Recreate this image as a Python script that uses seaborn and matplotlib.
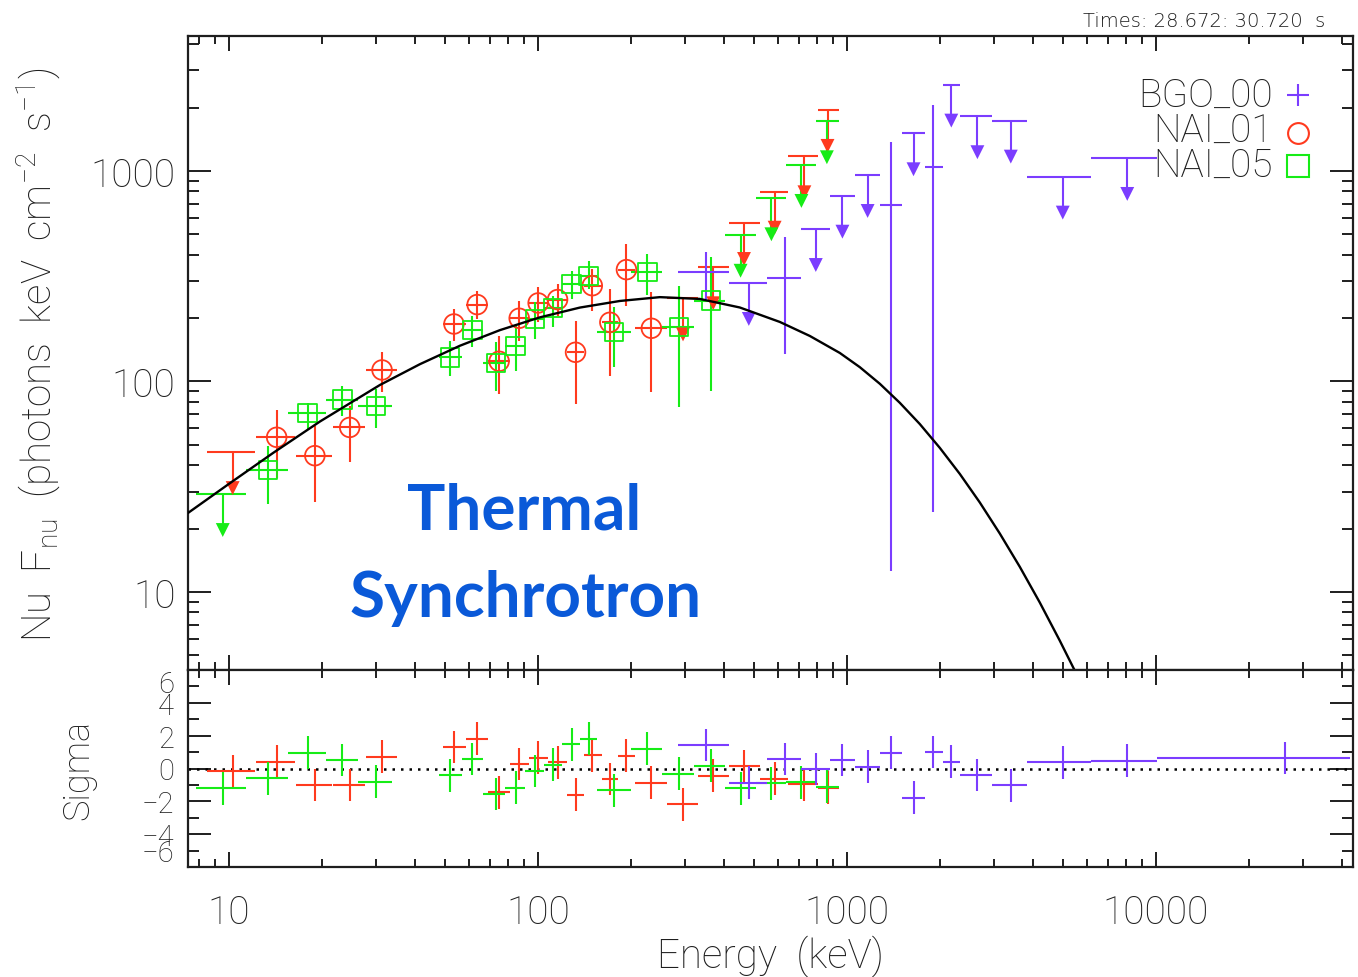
import numpy as np
import pandas as pd
import matplotlib
matplotlib.use("Agg")
import matplotlib.pyplot as plt
import seaborn as sns
from matplotlib.ticker import FixedLocator, FuncFormatter, NullFormatter, LogLocator

nan = np.nan

# ---------------- model curve ----------------
model_energy = [7.37, 10.075, 13.88, 19.70, 30.82, 41.51, 55.93, 75.34, 101.5, 136.8,
                184.3, 248.2, 334.4, 450.4, 607.2, 759.0, 949.1, 1102, 1279, 1484,
                1723, 2000, 2322, 2694, 3127, 3630, 4213, 4890, 5470, 5675]
model_flux = [23.73, 32.88, 45.70, 64.51, 96.25, 120.8, 147.8, 175.3, 201.6, 224.4,
              241.2, 251.5, 246.6, 224.6, 191.7, 164.5, 136.6, 116.9, 97.5, 79.21,
              62.77, 48.37, 36.36, 26.63, 18.96, 13.17, 8.915, 5.875, 4.228, 3.78]

# ---------------- NAI_01 (red circles) ----------------
nai01_energy = [10.28, 14.27, 18.97, 24.6, 31.3, 53.5, 63.6, 74.9, 87.0, 100.2, 115.8,
                132.4, 150.0, 171.0, 193.5, 233.0, 295.0, 369.5, 464.7, 584.0, 729.0, 866.0]
nai01_elo = [8.47, 12.23, 16.47, 21.65, 27.76, 49.38, 58.48, 69.06, 81.18, 93.72, 108.0,
             123.8, 140.9, 160.7, 181.9, 206.0, 261.0, 329.5, 414.4, 523.0, 646.4, 806.7]
nai01_ehi = [12.14, 16.35, 21.54, 27.55, 34.98, 58.48, 69.06, 81.18, 93.72, 108.0, 123.8,
             140.9, 160.7, 181.9, 206.0, 261.0, 329.5, 414.4, 523.0, 646.4, 806.7, 942.2]
nai01_flux = [46.2, 54.3, 44.4, 60.5, 113.4, 187.5, 231.8, 124.7, 199.6, 236.0, 244.9,
              137.6, 285.0, 191.0, 339.8, 178.9, 248.0, 348.7, 566.0, 797.0, 1174.0, 1950.0]
nai01_flo = [nan, 34.7, 26.9, 41.6, 89.1, 156.3, 198.2, 87.3, 156.3, 191.8, 205.5,
             78.2, 216.7, 106.7, 229.1, 89.5, nan, nan, nan, nan, nan, nan]
nai01_fhi = [nan, 73.5, 61.7, 76.7, 138.0, 220.7, 269.8, 165.3, 242.2, 281.3, 290.6,
             194.5, 342.0, 274.9, 449.8, 267.2, nan, nan, nan, nan, nan, nan]
nai01_ul = [1, 0, 0, 0, 0, 0, 0, 0, 0, 0, 0, 0, 0, 0, 0, 0, 1, 1, 1, 1, 1, 1]
nai01_sigma = [-0.15, 0.42, -1.01, -1.01, 0.71, 1.31, 1.82, -1.44, 0.27, 0.65, 0.39,
               -1.6, 0.8, -0.64, 0.78, -0.86, -2.19, -0.45, 0.15, -0.63, -0.96, -1.18]

# ---------------- NAI_05 (green squares) ----------------
nai05_energy = [9.55, 13.4, 17.97, 23.3, 29.9, 51.9, 61.4, 73.1, 84.7, 97.8, 112.0,
                128.5, 146.0, 176.4, 226.1, 286.4, 362.6, 453.0, 570.0, 713.0, 862.0]
nai05_elo = [7.82, 11.35, 15.52, 20.6, 26.2, 47.92, 56.64, 66.53, 78.21, 90.77, 104.6,
             119.8, 136.8, 154.9, 199.5, 251.9, 320.5, 404.6, 508.7, 635.4, 793.6]
nai05_ehi = [11.35, 15.52, 20.6, 26.2, 33.7, 56.64, 66.53, 78.21, 90.77, 104.6, 119.8,
             136.8, 154.9, 199.5, 251.9, 320.5, 404.6, 508.7, 635.4, 793.6, 942.2]
nai05_flux = [29.2, 38.0, 70.8, 82.0, 76.7, 130.0, 175.7, 122.5, 147.0, 198.0, 222.9,
              290.6, 318.0, 171.4, 330.5, 180.9, 242.0, 497.6, 741.6, 1068.0, 1722.0]
nai05_flo = [nan, 26.2, 59.4, 68.8, 59.9, 106.7, 145.2, 90.4, 112.5, 159.3, 180.8,
             246.5, 274.9, 116.7, 257.8, 75.4, 90.4, nan, nan, nan, nan]
nai05_fhi = [nan, 49.5, 78.7, 95.5, 92.1, 156.3, 205.5, 154.2, 184.1, 238.8, 255.9,
             335.6, 374.6, 225.0, 403.9, 285.2, 390.7, nan, nan, nan, nan]
nai05_ul = [1, 0, 0, 0, 0, 0, 0, 0, 0, 0, 0, 0, 0, 0, 0, 0, 0, 1, 1, 1, 1]
nai05_sigma = [-1.21, -0.6, 0.96, 0.52, -0.81, -0.42, 0.58, -1.55, -1.16, -0.15, 0.22,
               1.48, 1.82, -1.33, 1.21, -0.31, 0.17, -1.21, -0.9, -0.84, -1.11]

# ---------------- BGO_00 (purple crosses) ----------------
bgo00_energy = [349.8, 481.7, 630.2, 793.6, 967.8, 1167.7, 1393.2, 1644.0, 1905.2, 2178.9,
                2646.7, 3394.8, 5000.3, 8086.6, 26271.0]
bgo00_elo = [283.9, 414.4, 549.8, 709.9, 885.0, 1061.4, 1279.5, 1510.0, 1791.2, 2054.6,
             2316.6, 2961.4, 3830.7, 6178.4, 10074.0]
bgo00_ehi = [414.4, 549.8, 709.9, 885.0, 1061.4, 1279.5, 1510.0, 1791.2, 2054.6, 2316.6,
             2961.4, 3830.7, 6178.4, 10074.0, 42448.0]
bgo00_flux = [332.0, 293.8, 309.0, 530.0, 763.0, 957.0, 689.6, 1510.0, 1041.0, 2571.0,
              1820.0, 1734.0, 940.0, 1153.0, nan]
bgo00_flo = [246.5, nan, 135.2, nan, nan, nan, 12.6, nan, 24.0, nan, nan, nan, nan, nan, nan]
bgo00_fhi = [414.2, nan, 484.4, nan, nan, nan, 1368.0, nan, 2059.0, nan, nan, nan, nan, nan, nan]
bgo00_ul = [0, 1, 0, 1, 1, 1, 0, 1, 0, 1, 1, 1, 1, 1, 1]
bgo00_sigma = [1.43, -0.86, 0.58, -0.03, 0.52, 0.1, 0.95, -1.77, 1.01, 0.41, -0.4,
               -1.03, 0.37, 0.47, 0.64]

legend_labels = ["BGO_00", "NAI_01", "NAI_05"]
time_label = "Times: 28.672: 30.720  s"
annotation_lines = ["Thermal", "Synchrotron"]

# ---------------- style ----------------
sns.set_theme(style="ticks")
plt.rcParams["font.family"] = ["Roboto", "DejaVu Sans"]
plt.rcParams["font.weight"] = "light"
plt.rcParams["mathtext.fontset"] = "custom"
plt.rcParams["mathtext.rm"] = "Roboto:light"
plt.rcParams["mathtext.it"] = "Roboto:light:italic"
plt.rcParams["mathtext.bf"] = "Roboto:bold"

RED = "#ff3a1e"
GREEN = "#16ec16"
PURPLE = "#7b3dff"
BLUE = "#0a59d8"
INK = "#1e1e1e"
LW = 1.5

W, H = 1358, 978
fig = plt.figure(figsize=(W / 100, H / 100), dpi=100)
L, R = 188 / W, 1353 / W
ax = fig.add_axes([L, 1 - 671 / H, R - L, (671 - 37) / H])
axr = fig.add_axes([L, 1 - 868 / H, R - L, (868 - 671) / H])

for a in (ax, axr):
    a.set_xscale("log")
    a.set_xlim(7.37, 43500)
ax.set_yscale("log")
ax.set_ylim(4.26, 4375)
axr.set_ylim(-6, 6)

ARROW = 10 ** (-36 / 210.5)   # arrow head position relative to the upper limit


def make_df(e, elo, ehi, f, flo, fhi, ul, sig):
    return pd.DataFrame(dict(e=e, elo=elo, ehi=ehi, f=f, flo=flo, fhi=fhi, ul=ul, sig=sig))


def draw(df, color, marker=None, msize=None):
    det = df[(df.ul == 0) & df.f.notna()]
    lim = df[(df.ul == 1) & df.f.notna()]
    ax.errorbar(det.e, det.f, xerr=[det.e - det.elo, det.ehi - det.e],
                yerr=[det.f - det.flo, det.fhi - det.f], fmt="none",
                ecolor=color, elinewidth=LW, capsize=0, zorder=2)
    if marker is not None and len(det):
        sns.scatterplot(x=det.e, y=det.f, marker=marker, s=msize, facecolor="none",
                        edgecolor=color, linewidth=1.3, ax=ax, legend=False, zorder=3)
    if len(lim):
        tip = lim.f * ARROW
        ax.hlines(lim.f, lim.elo, lim.ehi, colors=color, lw=LW, zorder=2)
        ax.vlines(lim.e, tip, lim.f, colors=color, lw=LW, zorder=2)
        sns.scatterplot(x=lim.e, y=tip, marker="v", s=100, color=color,
                        edgecolor="none", ax=ax, legend=False, zorder=3)
    axr.errorbar(df.e, df.sig, xerr=[df.e - df.elo, df.ehi - df.e], yerr=1.0,
                 fmt="none", ecolor=color, elinewidth=LW, capsize=0, zorder=2)


d_red = make_df(nai01_energy, nai01_elo, nai01_ehi, nai01_flux, nai01_flo, nai01_fhi,
                nai01_ul, nai01_sigma)
d_grn = make_df(nai05_energy, nai05_elo, nai05_ehi, nai05_flux, nai05_flo, nai05_fhi,
                nai05_ul, nai05_sigma)
d_pur = make_df(bgo00_energy, bgo00_elo, bgo00_ehi, bgo00_flux, bgo00_flo, bgo00_fhi,
                bgo00_ul, bgo00_sigma)

draw(d_red, RED, "o", 200)
draw(d_grn, GREEN, "s", 175)
draw(d_pur, PURPLE)

sns.lineplot(x=model_energy, y=model_flux, ax=ax, color="black", lw=1.7, zorder=4,
             sort=False)

axr.axhline(0, color="black", lw=1.8, ls=(0, (1, 2.4)), zorder=1)

# ---------------- axes / ticks ----------------
fmt = FuncFormatter(lambda v, p: f"{v:g}")
for a in (ax, axr):
    a.xaxis.set_major_locator(FixedLocator([10, 100, 1000, 10000]))
    a.xaxis.set_minor_locator(LogLocator(base=10, subs=np.arange(2, 10), numticks=30))
    a.xaxis.set_major_formatter(fmt)
    a.xaxis.set_minor_formatter(NullFormatter())
    a.tick_params(which="both", direction="in", top=True, right=True, width=1.4,
                  color=INK, labelcolor=INK)
    a.tick_params(axis="x", which="major", length=11)
    a.tick_params(axis="x", which="minor", length=5.5)
    for s in a.spines.values():
        s.set_linewidth(1.6)
        s.set_color(INK)
    a.set_xlabel("")
    a.set_ylabel("")

ax.yaxis.set_major_locator(FixedLocator([10, 100, 1000]))
ax.yaxis.set_minor_locator(LogLocator(base=10, subs=np.arange(2, 10), numticks=30))
ax.yaxis.set_major_formatter(fmt)
ax.yaxis.set_minor_formatter(NullFormatter())
ax.tick_params(axis="y", which="major", length=16.5, labelsize=28, pad=9)
ax.tick_params(axis="y", which="minor", length=8)
ax.tick_params(axis="x", labelbottom=False)

axr.yaxis.set_major_locator(FixedLocator([-6, -4, -2, 0, 2, 4, 6]))
axr.yaxis.set_minor_locator(FixedLocator([-5, -3, -1, 1, 3, 5]))
axr.yaxis.set_major_formatter(FuncFormatter(lambda v, p: f"{v:g}".replace("-", "\u2212")))
axr.tick_params(axis="y", which="major", length=16.5, labelsize=21, pad=10)
axr.tick_params(axis="y", which="minor", length=8)
axr.tick_params(axis="x", which="major", labelsize=28, pad=19)

ticks = axr.yaxis.get_major_ticks()
ticks[0].label1.set_va("bottom")
ticks[-1].label1.set_va("top")

# ---------------- labels ----------------
fig.text(38 / W, 1 - 355 / H,
         r"Nu  F$_{\rm nu}$  (photons  keV  cm$^{-2}$  s$^{-1}$)",
         rotation=90, ha="center", va="center", fontsize=29, color=INK)
fig.text(78 / W, 1 - 770 / H, "Sigma", rotation=90, ha="center", va="center",
         fontsize=26, color=INK)
fig.text(770 / W, 1 - 968 / H, "Energy  (keV)", ha="center", va="baseline",
         fontsize=29, color=INK)
fig.text(1325 / W, 1 - 27 / H, time_label, ha="right", va="baseline", fontsize=14,
         family="DejaVu Sans", color=INK)

fig.text(524 / W, 1 - 529 / H, annotation_lines[0], ha="center", va="baseline",
         fontsize=46, family="Lato", fontweight="bold", color=BLUE)
fig.text(526 / W, 1 - 617 / H, annotation_lines[1], ha="center", va="baseline",
         fontsize=46, family="Lato", fontweight="bold", color=BLUE)

# ---------------- legend (labels with markers to the right) ----------------
leg_colors = [PURPLE, RED, GREEN]
leg_markers = ["+", "o", "s"]
leg_sizes = [16, 15, 16]
leg_baselines = [107, 142, 177]
leg_marker_y = [96, 134, 167]
for lab, col, mk, ms, yb, ym in zip(legend_labels, leg_colors, leg_markers, leg_sizes,
                                    leg_baselines, leg_marker_y):
    fig.text(1273 / W, 1 - yb / H, lab, ha="right", va="baseline", fontsize=28, color=INK)
    fig.lines.append(plt.Line2D([1298 / W], [1 - ym / H], transform=fig.transFigure,
                                marker=mk, ms=ms, mew=1.5, mfc="none", mec=col,
                                ls="none", figure=fig))

fig.savefig("out.png", dpi=100)
